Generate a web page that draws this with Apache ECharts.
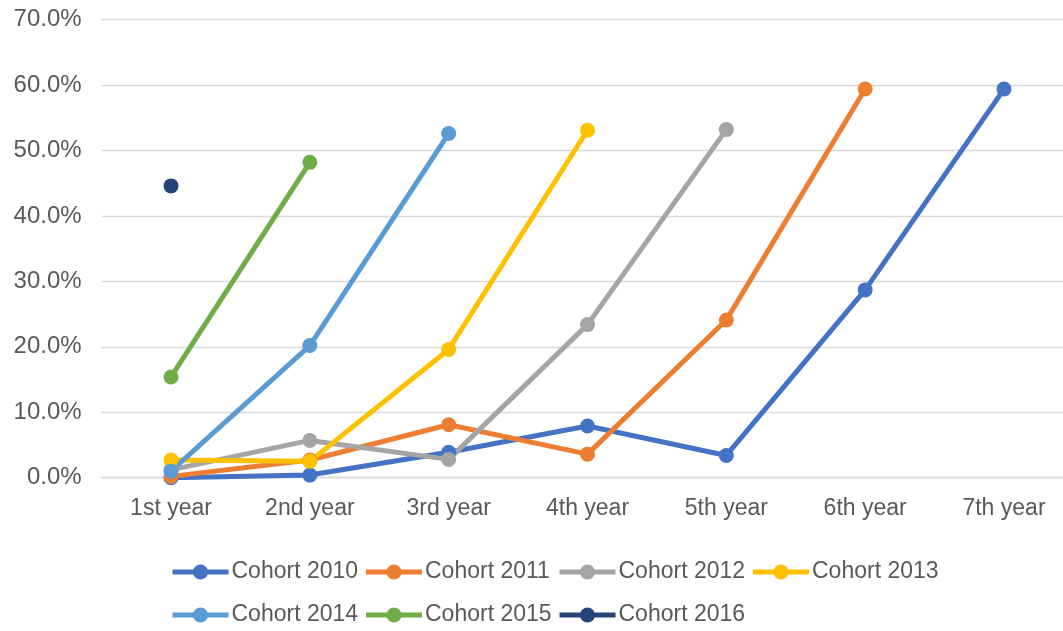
<!DOCTYPE html>
<html>
<head>
<meta charset="utf-8">
<script src="https://cdn.jsdelivr.net/npm/echarts@6/dist/echarts.min.js"></script>
<style>
html,body{margin:0;padding:0;background:#fff;overflow:hidden;width:1063px;height:631px;}
#c{width:1074px;height:631px;}
</style>
</head>
<body>
<div id="c"></div>
<script>
var categories = ['1st year','2nd year','3rd year','4th year','5th year','6th year','7th year'];
var yTicks = {min: 0, max: 70, interval: 10};
var cohort2010 = [0.0, 0.4, 3.9, 7.9, 3.4, 28.7, 59.4];
var cohort2011 = [0.2, 2.7, 8.1, 3.6, 24.1, 59.4, null];
var cohort2012 = [1.2, 5.7, 2.8, 23.4, 53.2, null, null];
var cohort2013 = [2.7, 2.5, 19.6, 53.1, null, null, null];
var cohort2014 = [1.0, 20.2, 52.6, null, null, null, null];
var cohort2015 = [15.4, 48.2, null, null, null, null, null];
var cohort2016 = [44.6, null, null, null, null, null, null];
var seriesNames = ['Cohort 2010','Cohort 2011','Cohort 2012','Cohort 2013','Cohort 2014','Cohort 2015','Cohort 2016'];
var seriesData = [cohort2010, cohort2011, cohort2012, cohort2013, cohort2014, cohort2015, cohort2016];
var colors = ['#4472C4','#ED7D31','#A5A5A5','#FFC000','#5B9BD5','#70AD47','#264478'];

var FONT = '"Liberation Sans", Arial, sans-serif';
var TXT = '#595959';

var chart = echarts.init(document.getElementById('c'), null, {renderer: 'canvas'});

var series = seriesNames.map(function (n, i) {
  return {
    name: n,
    type: 'line',
    data: seriesData[i],
    symbol: 'circle',
    symbolSize: 15,
    showSymbol: true,
    showAllSymbol: true,
    connectNulls: false,
    lineStyle: {width: 5, color: colors[i]},
    itemStyle: {color: colors[i]},
    emphasis: {disabled: true},
    animation: false
  };
});

function legendFor(names, top) {
  return {
    data: names,
    left: 165,
    top: top,
    orient: 'horizontal',
    itemWidth: 56,
    itemHeight: 19,
    itemGap: 4,
    lineStyle: {width: 5},
    textStyle: {color: TXT, fontSize: 23, fontFamily: FONT, width: 128, lineHeight: 26, padding: [0,0,0,-2]},
    selectedMode: false
  };
}

chart.setOption({
  backgroundColor: '#fff',
  color: colors,
  animation: false,
  grid: {left: 101.6, right: 0.6, top: 19.7, bottom: 153.3, containLabel: false},
  xAxis: {
    type: 'category',
    data: categories,
    boundaryGap: true,
    axisLine: {show: true, lineStyle: {color: '#D9D9D9', width: 1.3}},
    axisTick: {show: false},
    axisLabel: {color: TXT, fontSize: 23, fontFamily: FONT, margin: 19}
  },
  yAxis: {
    type: 'value',
    min: yTicks.min,
    max: yTicks.max,
    interval: yTicks.interval,
    axisLine: {show: false},
    axisTick: {show: false},
    splitLine: {lineStyle: {color: '#D9D9D9', width: 1.3}},
    axisLabel: {color: TXT, fontSize: 24, fontFamily: FONT, margin: 20, padding: [4, 0, 0, 0],
      formatter: function (v) { return v.toFixed(1) + '%'; }}
  },
  legend: [
    legendFor(seriesNames.slice(0, 4), 554),
    legendFor(seriesNames.slice(4), 597)
  ],
  series: series
});
</script>
</body>
</html>
